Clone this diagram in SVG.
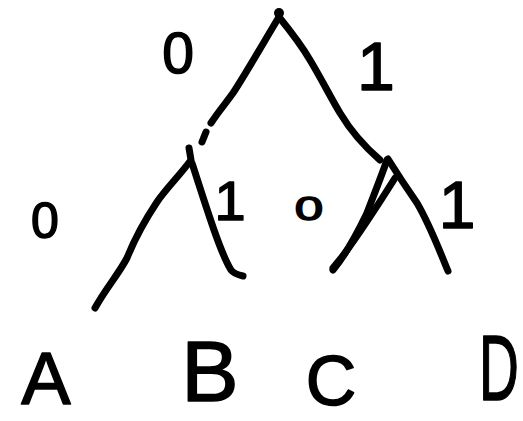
<svg xmlns="http://www.w3.org/2000/svg" width="523" height="421" viewBox="0 0 523 421">
<style>
.e{fill:none;stroke:#000;stroke-width:7;stroke-linecap:round;stroke-linejoin:round}
.t{font-family:"Liberation Sans",Arial,sans-serif;fill:#000;stroke:#000;stroke-width:1.5;stroke-linejoin:round;text-anchor:middle}
</style>
<rect width="523" height="421" fill="#fff"/>
<g id="connectors">
<path class="e" d="M279,17 C265,40 245,75 233,93 C226,103 218,112 211,123"/>
<path class="e" d="M206,132 L202,142"/>
<path class="e" d="M279,17 C292,33 303,48 310,60 C322,80 332,100 340,113 C352,133 365,147 380,160"/>
<path class="e" d="M189,148 L191,160 C180,175 165,190 157,202 C145,220 135,238 127,258 C118,275 106,288 95,308"/>
<path class="e" d="M192,163 C200,188 207,210 214,230 C220,247 226,262 231,270 C234,274 238,275 243,276"/>
<path class="e" d="M387,160 C380,180 373,197 367,213 C355,238 343,258 333,270"/>
<path class="e" d="M395,178 C378,205 360,233 342,257 L333,268"/>
<path class="e" d="M388,159 C398,175 408,190 417,203 C430,225 440,252 448,271"/>
</g>
<g id="node-root"><circle cx="279" cy="13" r="5" fill="#000"/></g>
<g id="node-left"><circle cx="191" cy="160" r="3" fill="#000"/></g>
<g id="node-right"><circle cx="387" cy="160" r="3" fill="#000"/></g>
<g id="labels">
<text class="t" x="178" y="73" font-size="57">0</text>
<text class="t" x="376" y="90" font-size="68">1</text>
<text class="t" x="45" y="238" font-size="50">0</text>
<text class="t" x="230" y="220" font-size="56">1</text>
<text class="t" transform="translate(309,220) scale(1.5,1)" x="0" y="0" font-size="34">0</text>
<text class="t" x="457" y="228" font-size="66">1</text>
</g>
<g id="node-A"><text class="t" x="46" y="404" font-size="74">A</text></g>
<g id="node-B"><text class="t" x="210" y="401" font-size="86">B</text></g>
<g id="node-C"><text class="t" x="331" y="405" font-size="70">C</text></g>
<g id="node-D"><text class="t" transform="translate(499,400) scale(0.6,1)" x="0" y="0" font-size="92">D</text></g>
</svg>
